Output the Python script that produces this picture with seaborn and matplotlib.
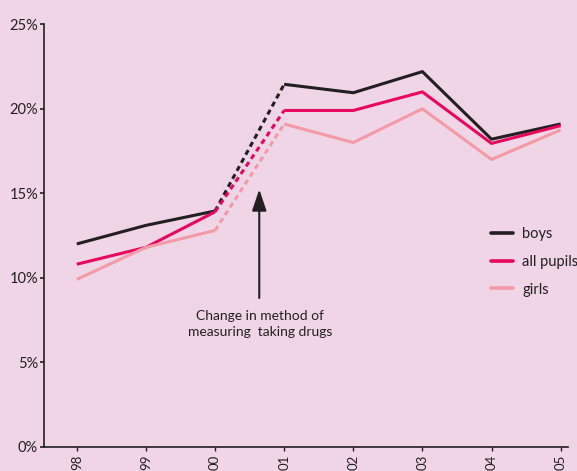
import matplotlib
matplotlib.use("Agg")
import matplotlib.pyplot as plt
import seaborn as sns
from matplotlib.lines import Line2D

# ---- data ----
years = [1998, 1999, 2000, 2001, 2002, 2003, 2004, 2005]
year_labels = ["98", "99", "00", "01", "02", "03", "04", "05"]
boys = [12.0, 13.1, 13.95, 21.45, 20.95, 22.2, 18.2, 19.1]
all_pupils = [10.8, 11.8, 13.9, 19.9, 19.9, 21.0, 17.95, 19.0]
girls = [9.9, 11.8, 12.8, 19.1, 18.0, 20.0, 17.0, 18.75]
series_names = ["boys", "all pupils", "girls"]
y_ticks = [0, 5, 10, 15, 20, 25]
y_tick_labels = ["0%", "5%", "10%", "15%", "20%", "25%"]
annotation_text = "Change in method of\nmeasuring  taking drugs"
break_index = 2  # method change between 2000 and 2001

# ---- style ----
sns.set_style("ticks")
plt.rcParams["font.family"] = ["Lato", "DejaVu Sans"]
BG = "#EFD5E6"
DARK = "#231F20"
colors = {"boys": "#231F20", "all pupils": "#E6075F", "girls": "#F29BA7"}
LW = 2.2

fig = plt.figure(figsize=(5.77, 4.71), dpi=100, facecolor=BG)
ax = fig.add_axes([0.0768, 0.0516, 0.908, 0.8968])
ax.set_facecolor(BG)

series = {"boys": boys, "all pupils": all_pupils, "girls": girls}
for name in series_names:
    vals = series[name]
    c = colors[name]
    b = break_index
    sns.lineplot(x=years[:b + 1], y=vals[:b + 1], ax=ax, color=c, lw=LW,
                 errorbar=None, solid_capstyle="butt")
    sns.lineplot(x=years[b + 1:], y=vals[b + 1:], ax=ax, color=c, lw=LW,
                 errorbar=None, solid_capstyle="butt")
    sns.lineplot(x=years[b:b + 2], y=vals[b:b + 2], ax=ax, color=c, lw=LW,
                 errorbar=None)
    ax.lines[-1].set_dashes([1.7, 1.3])
    ax.lines[-1].set_dash_capstyle("butt")

ax.set_xlim(1997.53, 2005.11)
ax.set_ylim(0, 25)
ax.set_yticks(y_ticks)
ax.set_yticklabels(y_tick_labels)
ax.set_xticks(years)
ax.set_xticklabels(year_labels, rotation=90, va="top")
ax.set_xlabel("")
ax.set_ylabel("")

for s in ["top", "right"]:
    ax.spines[s].set_visible(False)
for s in ["left", "bottom"]:
    ax.spines[s].set_color(DARK)
    ax.spines[s].set_linewidth(1.2)
ax.tick_params(axis="y", length=3, width=1.2, color=DARK, pad=1.5,
               labelsize=10.5, labelcolor=DARK)
ax.tick_params(axis="x", length=3.2, width=1.0, color=DARK, pad=2.5,
               labelsize=9.5, labelcolor=DARK)

# annotation arrow and text
ax.annotate("", xy=(2000.64, 15.23), xytext=(2000.64, 8.8),
            arrowprops=dict(arrowstyle="-|>,head_length=0.65,head_width=0.22",
                            mutation_scale=20, lw=1.5, color=DARK,
                            shrinkA=0, shrinkB=0))
ax.text(2000.65, 7.27, annotation_text, ha="center", va="center",
        fontsize=10, color=DARK, linespacing=1.35)

# legend
handles = [Line2D([0], [0], color=colors[n], lw=2.6) for n in series_names]
leg = fig.legend(handles, series_names, loc="center left",
                 bbox_to_anchor=(491 / 577, 1 - 261.7 / 471),
                 frameon=False, handlelength=1.5, handletextpad=0.65,
                 labelspacing=0.95, borderpad=0, borderaxespad=0,
                 fontsize=10.5)
for t in leg.get_texts():
    t.set_color(DARK)

fig.savefig("out.png", dpi=100, facecolor=BG)
